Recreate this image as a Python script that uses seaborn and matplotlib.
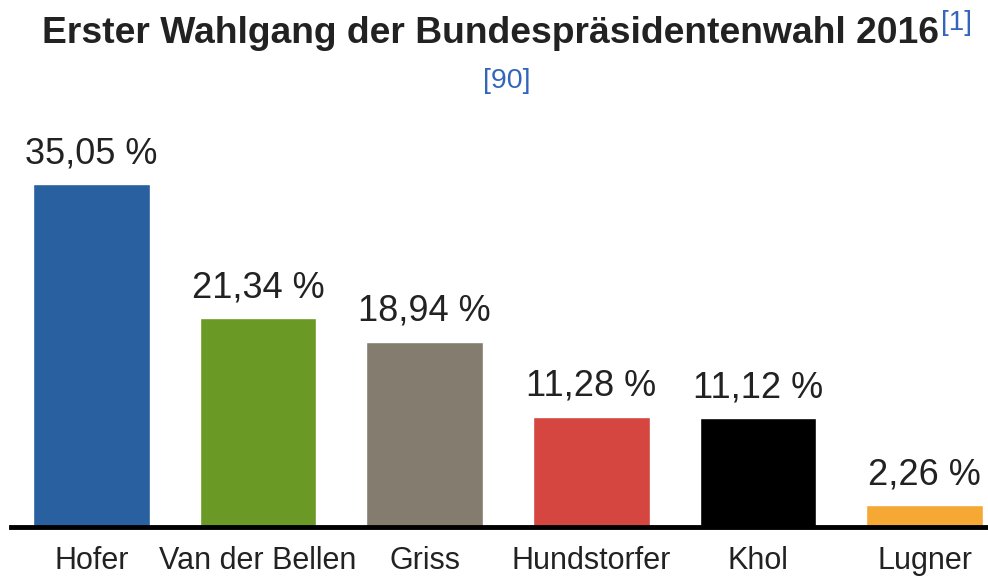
"""
Erster Wahlgang der Bundespräsidentenwahl 2016 - Balkendiagramm.
"""

import pandas as pd
import matplotlib
matplotlib.use('Agg')
import matplotlib.pyplot as plt
import seaborn as sns

# Daten
candidates = ['Hofer', 'Van der Bellen', 'Griss', 'Hundstorfer', 'Khol', 'Lugner']
votes_pct = [35.05, 21.34, 18.94, 11.28, 11.12, 2.26]
bar_colors = ['#2860a0', '#6a9a25', '#857c70', '#d4463f', '#000000', '#f5a834']

TITLE = 'Erster Wahlgang der Bundespräsidentenwahl 2016'
REF_TITLE = '[1]'
REF_SUB = '[90]'


def main():
    sns.set_theme(style='white')
    plt.rcParams['font.family'] = ['Liberation Sans', 'DejaVu Sans']
    text_color = '#222222'
    link_color = '#3366bb'

    df = pd.DataFrame({'Kandidat': candidates, 'Prozent': votes_pct})
    palette = dict(zip(candidates, bar_colors))

    fig = plt.figure(figsize=(9.88, 5.77), dpi=100)
    ax = fig.add_axes([11 / 988, 50 / 577, 977 / 988, 407 / 577])

    sns.barplot(data=df, x='Kandidat', y='Prozent', hue='Kandidat',
                palette=palette, width=0.70, saturation=1, legend=False,
                ax=ax)

    for patch, val in zip(ax.patches, votes_pct):
        x = patch.get_x() + patch.get_width() / 2
        label = f'{val:.2f}'.replace('.', ',') + ' %'
        ax.annotate(label, (x, patch.get_height()), xytext=(0, 15),
                    textcoords='offset points', ha='center', va='baseline',
                    fontsize=26, color=text_color)

    ax.set_xlim(-0.483, 5.38)
    ax.set_ylim(0, 41.6)
    ax.set_xlabel('')
    ax.set_ylabel('')
    ax.set_yticks([])
    ax.tick_params(axis='x', length=0, pad=14, labelsize=22,
                   labelcolor=text_color)
    for side in ['top', 'right', 'left']:
        ax.spines[side].set_visible(False)
    ax.spines['bottom'].set_linewidth(3.5)
    ax.spines['bottom'].set_color('black')

    # Titel mit Einzelnachweis
    fig.text(490 / 988, 1 - 43 / 577, TITLE, ha='center', va='baseline',
             fontsize=26.8, fontweight='bold', color=text_color)
    fig.text(941 / 988, 1 - 30 / 577, REF_TITLE, ha='left', va='baseline',
             fontsize=20, color=link_color)
    fig.text(507 / 988, 1 - 88 / 577, REF_SUB, ha='center', va='baseline',
             fontsize=20.5, color=link_color)

    plt.savefig('out.png', dpi=100)
    plt.close()


if __name__ == "__main__":
    main()
